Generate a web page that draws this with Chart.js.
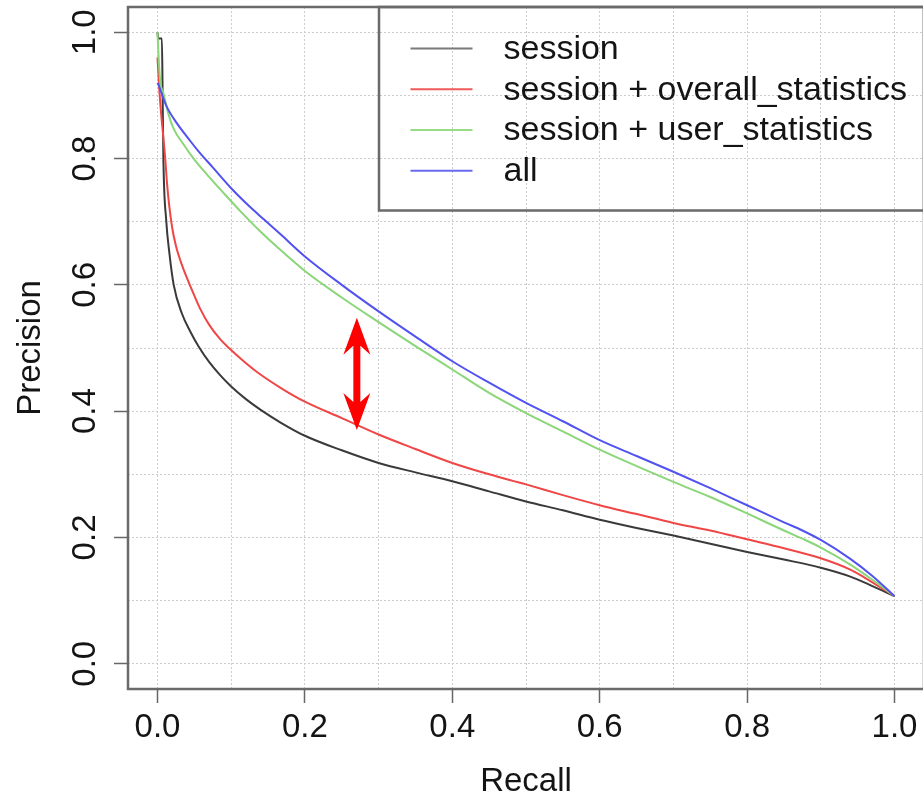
<!DOCTYPE html>
<html>
<head>
<meta charset="utf-8">
<script src="https://cdn.jsdelivr.net/npm/chart.js@4.4.1/dist/chart.umd.min.js"></script>
<style>
html,body{margin:0;padding:0;overflow:hidden;background:#fff;width:923px;height:798px}
canvas{display:block}
</style>
</head>
<body>
<canvas id="c" width="926" height="798"></canvas>
<script>
// ---- data ----
const seriesNames = ['session', 'session + overall_statistics', 'session + user_statistics', 'all'];

const sessionRecall    = [0, 0.001, 0.006, 0.007, 0.008, 0.012, 0.016, 0.022, 0.033, 0.045, 0.056, 0.07, 0.085, 0.1, 0.12, 0.14, 0.167, 0.2, 0.25, 0.3, 0.35, 0.4, 0.45, 0.5, 0.55, 0.6, 0.65, 0.7, 0.75, 0.8, 0.85, 0.9, 0.94, 0.97, 1.0];
const sessionPrecision = [1.0, 0.99, 0.99, 0.9, 0.8, 0.7, 0.652, 0.6, 0.555, 0.525, 0.502, 0.478, 0.457, 0.439, 0.419, 0.402, 0.382, 0.361, 0.338, 0.318, 0.303, 0.289, 0.273, 0.257, 0.243, 0.228, 0.215, 0.203, 0.19, 0.177, 0.165, 0.152, 0.138, 0.123, 0.107];

const overallRecall    = [0, 0.003, 0.0105, 0.013, 0.016, 0.02, 0.025, 0.033, 0.042, 0.05, 0.058, 0.07, 0.085, 0.097, 0.115, 0.135, 0.167, 0.2, 0.25, 0.3, 0.35, 0.4, 0.45, 0.5, 0.55, 0.6, 0.65, 0.7, 0.75, 0.8, 0.85, 0.9, 0.94, 0.97, 1.0];
const overallPrecision = [0.96, 0.9, 0.8, 0.76, 0.725, 0.69, 0.662, 0.632, 0.605, 0.583, 0.562, 0.537, 0.514, 0.5, 0.481, 0.462, 0.437, 0.415, 0.389, 0.363, 0.34, 0.318, 0.3, 0.284, 0.267, 0.251, 0.237, 0.223, 0.211, 0.197, 0.183, 0.167, 0.149, 0.129, 0.107];

const userRecall    = [0, 0.002, 0.004, 0.008, 0.015, 0.022, 0.035, 0.049, 0.07, 0.09, 0.113, 0.14, 0.167, 0.2, 0.25, 0.3, 0.35, 0.4, 0.45, 0.5, 0.55, 0.6, 0.65, 0.7, 0.75, 0.8, 0.85, 0.875, 0.9, 0.94, 0.97, 1.0];
const userPrecision = [1.0, 0.95, 0.92, 0.904, 0.87, 0.847, 0.823, 0.8, 0.771, 0.745, 0.716, 0.684, 0.655, 0.622, 0.58, 0.541, 0.503, 0.466, 0.429, 0.397, 0.368, 0.339, 0.313, 0.288, 0.264, 0.238, 0.211, 0.198, 0.184, 0.157, 0.133, 0.107];

const allRecall    = [0, 0.003, 0.008, 0.013, 0.025, 0.045, 0.056, 0.075, 0.1, 0.125, 0.145, 0.167, 0.2, 0.25, 0.3, 0.35, 0.4, 0.45, 0.5, 0.55, 0.6, 0.65, 0.7, 0.75, 0.8, 0.85, 0.875, 0.9, 0.94, 0.97, 1.0];
const allPrecision = [0.92, 0.912, 0.895, 0.881, 0.858, 0.827, 0.811, 0.786, 0.753, 0.724, 0.703, 0.68, 0.645, 0.6, 0.558, 0.518, 0.479, 0.445, 0.413, 0.384, 0.354, 0.329, 0.304, 0.278, 0.251, 0.224, 0.211, 0.196, 0.166, 0.139, 0.107];

const gridValues  = [0, 0.1, 0.2, 0.3, 0.4, 0.5, 0.6, 0.7, 0.8, 0.9, 1.0];
const tickLabels  = ['0.0', '0.2', '0.4', '0.6', '0.8', '1.0'];
const labeledValues = [0, 0.2, 0.4, 0.6, 0.8, 1.0];

// red double arrow annotation (data coordinates)
const arrowRecall = 0.2705;
const arrowTopPrecision = 0.548;
const arrowBottomPrecision = 0.37;

// ---- styles ----
const colors = ['#3a3a3a', '#ef4646', '#8bd679', '#5252f0'];
const legendLineColors = ['#7a7a7a', '#ef5a5a', '#97dc88', '#6a6af0'];
const FONT = "'Liberation Sans', Arial, Helvetica, sans-serif";
const TXT = '#141414';

const recallArrays = [sessionRecall, overallRecall, userRecall, allRecall];
const precisionArrays = [sessionPrecision, overallPrecision, userPrecision, allPrecision];

const datasets = seriesNames.map((name, i) => ({
  label: name,
  data: recallArrays[i].map((r, k) => ({x: r, y: precisionArrays[i][k]})),
  showLine: true,
  borderColor: colors[i],
  backgroundColor: colors[i],
  borderWidth: 2,
  pointRadius: 0,
  cubicInterpolationMode: 'monotone',
  fill: false,
  order: 4 - i
}));

function isLabeled(v) {
  return labeledValues.some(l => Math.abs(l - v) < 1e-6);
}
function labelFor(v) {
  const idx = labeledValues.findIndex(l => Math.abs(l - v) < 1e-6);
  return idx >= 0 ? tickLabels[idx] : '';
}

const gridCommon = {
  color: '#cdcdcd',
  lineWidth: 1,
  drawTicks: true,
  tickLength: 14,
  tickWidth: 1.5,
  tickBorderDash: [],
  tickColor: (c) => (c.tick && isLabeled(c.tick.value)) ? '#666' : 'rgba(0,0,0,0)'
};

const decor = {
  id: 'decor',
  afterDatasetsDraw(chart) {
    const {ctx, chartArea: a, scales: {x, y}} = chart;
    ctx.save();
    // double arrow
    const ax = x.getPixelForValue(arrowRecall);
    const ty = y.getPixelForValue(arrowTopPrecision);
    const by = y.getPixelForValue(arrowBottomPrecision);
    const hw = 13.5, hl = 37, nl = 28, sw = 3.5;
    ctx.fillStyle = '#ff0000';
    ctx.beginPath();
    ctx.moveTo(ax, ty);
    ctx.lineTo(ax + hw, ty + hl);
    ctx.lineTo(ax + sw, ty + nl);
    ctx.lineTo(ax + sw, by - nl);
    ctx.lineTo(ax + hw, by - hl);
    ctx.lineTo(ax, by);
    ctx.lineTo(ax - hw, by - hl);
    ctx.lineTo(ax - sw, by - nl);
    ctx.lineTo(ax - sw, ty + nl);
    ctx.lineTo(ax - hw, ty + hl);
    ctx.closePath();
    ctx.fill();

    // plot box
    ctx.strokeStyle = '#6a6a6a';
    ctx.lineWidth = 2.5;
    ctx.strokeRect(a.left, a.top, a.right - a.left, a.bottom - a.top);

    // legend (top-right, inside plot)
    const lx = 379, lt = a.top, lbot = 210.5;
    ctx.lineWidth = 2.5;
    ctx.strokeStyle = '#6a6a6a';
    ctx.strokeRect(lx, lt, a.right - lx, lbot - lt);
    const rowY = [48.5, 89.3, 130, 170.7];
    ctx.font = '34px ' + FONT;
    ctx.textBaseline = 'middle';
    ctx.textAlign = 'left';
    chart.data.datasets.forEach((ds, i) => {
      ctx.strokeStyle = legendLineColors[i];
      ctx.lineWidth = 2;
      ctx.beginPath();
      ctx.moveTo(410.5, rowY[i]);
      ctx.lineTo(472.5, rowY[i]);
      ctx.stroke();
      ctx.fillStyle = TXT;
      ctx.fillText(ds.label, 503.5, rowY[i] + 1);
    });
    ctx.restore();
  }
};

new Chart(document.getElementById('c'), {
  type: 'scatter',
  data: {datasets},
  plugins: [decor],
  options: {
    responsive: false,
    devicePixelRatio: 1,
    animation: false,
    layout: {padding: {left: 0, top: 7, right: 2, bottom: 0}},
    plugins: {legend: {display: false}, tooltip: {enabled: false}},
    scales: {
      x: {
        type: 'linear',
        min: -0.04, max: 1.04,
        afterBuildTicks: (axis) => { axis.ticks = gridValues.map(v => ({value: v})); },
        afterFit: (axis) => {
          axis.height = 109;
          axis.paddingLeft = 0; axis.paddingRight = 0; axis.paddingTop = 0; axis.paddingBottom = 0;
        },
        grid: gridCommon,
        border: {display: false, dash: [2, 2]},
        ticks: {
          autoSkip: false, maxRotation: 0, minRotation: 0,
          padding: 8,
          color: TXT,
          font: {family: FONT, size: 33, lineHeight: 1},
          callback: (v) => labelFor(v)
        },
        title: {
          display: true, text: 'Recall', color: TXT,
          font: {family: FONT, size: 33, lineHeight: 1},
          padding: {top: 0, bottom: 0}
        }
      },
      y: {
        type: 'linear',
        min: -0.04, max: 1.04,
        afterBuildTicks: (axis) => { axis.ticks = gridValues.map(v => ({value: v})); },
        afterFit: (axis) => {
          axis.width = 128;
          axis.paddingLeft = 0; axis.paddingRight = 0; axis.paddingTop = 0; axis.paddingBottom = 0;
        },
        grid: gridCommon,
        border: {display: false, dash: [2, 2]},
        ticks: {
          autoSkip: false, minRotation: 90, maxRotation: 90,
          crossAlign: 'center',
          padding: 5,
          color: TXT,
          font: {family: FONT, size: 33, lineHeight: 1},
          callback: (v) => labelFor(v)
        },
        title: {
          display: true, text: 'Precision', color: TXT,
          font: {family: FONT, size: 33, lineHeight: 1},
          padding: {top: 14.5, bottom: 0}
        }
      }
    }
  }
});
</script>
</body>
</html>
